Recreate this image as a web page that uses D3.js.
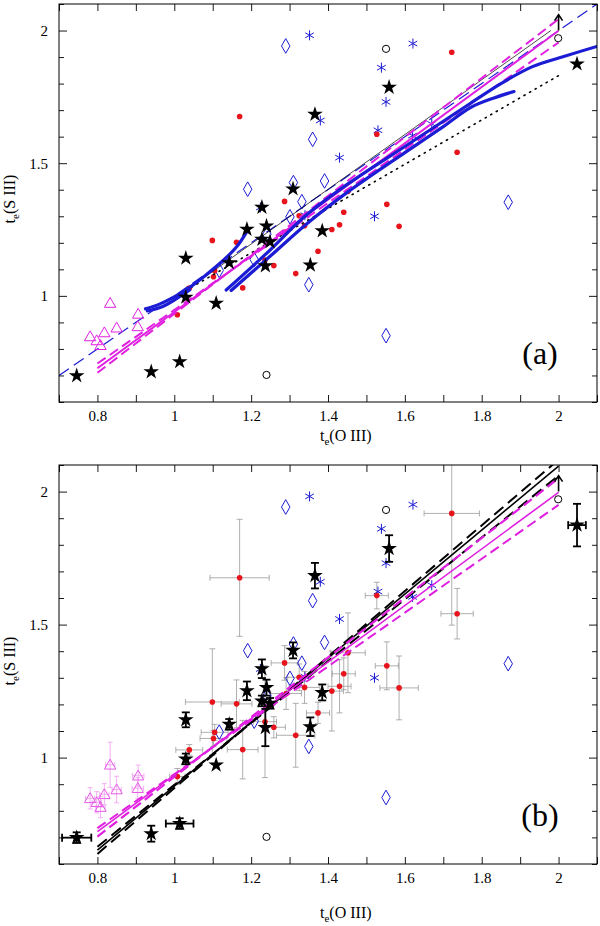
<!DOCTYPE html>
<html>
<head>
<meta charset="utf-8">
<script src="https://cdn.jsdelivr.net/npm/d3@7"></script>
<style>
  body { margin: 0; background: #fff; }
  svg { display: block; }
  svg text { font-family: "Liberation Serif", "Times New Roman", Times, "DejaVu Serif", "Noto Serif", serif; }
</style>
</head>
<body>
<div id="chart"></div>
<script>
// te(S III) against te(O III), two panels

// black stars (errors only drawn in panel b)
const starX    = [0.746, 0.94, 1.014, 1.03, 1.03, 1.109, 1.143, 1.189, 1.228, 1.240, 1.228, 1.249, 1.237, 1.309, 1.385, 1.354, 1.366, 1.559, 2.048];
const starY    = [0.699, 0.714, 0.752, 1.142, 0.995, 0.972, 1.125, 1.251, 1.334, 1.263, 1.213, 1.204, 1.113, 1.403, 1.245, 1.116, 1.684, 1.786, 1.874];
const starXerr = [0.038, 0, 0.036, 0, 0, 0, 0, 0, 0, 0, 0, 0, 0, 0, 0, 0, 0, 0, 0.023];
const starYerr = [0.02, 0.03, 0.02, 0.028, 0.02, 0, 0.02, 0.035, 0.035, 0.03, 0.02, 0.02, 0.07, 0.03, 0.03, 0.035, 0.048, 0.05, 0.08];

// red dots
const redX    = [1.170, 1.287, 1.722, 1.527, 1.736, 1.553, 1.441, 1.585, 1.430, 1.410, 1.374, 1.099, 1.162, 1.105, 1.102, 1.008, 1.178, 1.259, 1.316, 1.291, 1.325, 1.039, 1.236, 1.452, 1.339];
const redY    = [1.676, 1.356, 1.918, 1.609, 1.541, 1.345, 1.315, 1.262, 1.268, 1.250, 1.168, 1.209, 1.202, 1.095, 1.072, 0.929, 1.030, 1.114, 1.084, 1.241, 1.302, 1.029, 1.135, 1.394, 1.264];
const redXerr = [0.077, 0.035, 0.072, 0.03, 0.042, 0.03, 0.03, 0.05, 0.03, 0.03, 0.03, 0.07, 0.04, 0.035, 0.035, 0.02, 0.04, 0.03, 0.05, 0.04, 0.03, 0.035, 0.03, 0.045, 0.04];
const redYerr = [0.22, 0.065, 0.42, 0.05, 0.095, 0.09, 0.06, 0.12, 0.10, 0.15, 0.04, 0.20, 0.09, 0.03, 0.03, 0.03, 0.11, 0.04, 0.12, 0.06, 0.05, 0.02, 0.21, 0.15, 0.06];

// magenta open triangles
const triX    = [0.833, 0.906, 0.905, 0.850, 0.818, 0.781, 0.798, 0.808];
const triY    = [0.973, 0.932, 0.885, 0.880, 0.862, 0.847, 0.832, 0.814];
const triXerr = [0.012, 0.015, 0.015, 0.012, 0.012, 0.012, 0.012, 0.012];
const triYerr = [0.085, 0.04, 0.04, 0.05, 0.04, 0.04, 0.04, 0.04];

// blue open diamonds
const diaX = [1.290, 1.191, 1.310, 1.332, 1.301, 1.360, 1.391, 1.869, 1.350, 1.551, 1.117, 1.208, 1.241];
const diaY = [1.942, 1.402, 1.427, 1.355, 1.298, 1.590, 1.433, 1.353, 1.042, 0.850, 1.096, 1.137, 1.232];

// blue asterisks
const astX = [1.352, 1.621, 1.539, 1.551, 1.380, 1.530, 1.430, 1.670, 1.620, 1.521, 1.224, 1.340];
const astY = [1.982, 1.951, 1.860, 1.731, 1.661, 1.624, 1.521, 1.648, 1.604, 1.300, 1.333, 1.304];

// black open circles
const circX = [1.551, 1.999, 1.240];
const circY = [1.931, 1.971, 0.702];

// lower limit arrow
const arrowX = 2.0;
const arrowY = [2.0, 2.06];

// panel (a) lines
const oneToOne   = [[0.7, 0.7], [2.1, 2.1]];
const magFitA    = [[0.8, 0.727], [2.0, 1.999]];
const magLoA     = [[0.8, 0.710], [2.0, 2.043]];
const magHiA     = [[0.8, 0.745], [2.0, 1.955]];
const thinBlack  = [[1.03, 1.02], [1.98, 2.0]];
const dotBlack   = [[1.03, 1.02], [2.0, 1.83]];
const blueCurve1 = [[0.925, 0.951], [0.96, 0.968], [1.0, 0.996], [1.04, 1.032], [1.08, 1.076], [1.13, 1.137], [1.165, 1.19], [1.19, 1.245]];
const blueCurve2 = [[0.93, 0.943], [0.97, 0.960], [1.0, 0.984], [1.04, 1.022]];
const blueCurve3 = [[1.135, 1.022], [1.24, 1.16], [1.34, 1.30], [1.45, 1.42], [1.6, 1.563], [1.7, 1.658], [1.771, 1.726], [1.85, 1.80], [1.932, 1.864], [2.02, 1.905], [2.1, 1.94]];
const blueCurve4 = [[1.148, 1.02], [1.25, 1.15], [1.345, 1.272], [1.45, 1.39], [1.6, 1.54], [1.7, 1.638], [1.771, 1.71], [1.83, 1.745], [1.884, 1.77]];

// panel (b) lines
const blkFitB = [[0.8, 0.652], [2.0, 2.096]];
const blkHiB  = [[0.8, 0.638], [2.0, 2.12]];
const blkLoB  = [[0.8, 0.665], [2.0, 2.06]];
const magFitB = [[0.8, 0.722], [2.0, 1.997]];
const magHiB  = [[0.8, 0.703], [2.0, 2.05]];
const magLoB  = [[0.8, 0.735], [2.0, 1.95]];

// axes
const xDomain = [0.7, 2.1];
const yDomain = [0.6, 2.1];
const xTicks = d3.range(7, 22).map(d => d / 10);
const xTickLabels = [0.8, 1, 1.2, 1.4, 1.6, 1.8, 2];
const yTicks = d3.range(6, 22).map(d => d / 10);
const yTickLabels = [1, 1.5, 2];

const W = 600, H = 926;
const left = 59, right = 597;
const BLUE = "#1c1cd4", MAG = "#e01fe0", RED = "#e8141c";

const svg = d3.select("#chart").append("svg")
    .attr("width", W)
    .attr("height", H);

const panels = [
  { id: "a", top: 4, bottom: 402, xTitleY: 441, yTitleY: 199 },
  { id: "b", top: 465, bottom: 864, xTitleY: 918, yTitleY: 661 }
];

panels.forEach(p => {
  const x = d3.scaleLinear().domain(xDomain).range([left, right]);
  const y = d3.scaleLinear().domain(yDomain).range([p.bottom, p.top]);
  const g = svg.append("g");

  svg.append("clipPath").attr("id", "clip-" + p.id)
    .append("rect")
      .attr("x", left).attr("y", p.top)
      .attr("width", right - left).attr("height", p.bottom - p.top);

  const plot = g.append("g").attr("clip-path", `url(#clip-${p.id})`);
  const line = d3.line().x(d => x(d[0])).y(d => y(d[1]));
  const curve = d3.line().x(d => x(d[0])).y(d => y(d[1])).curve(d3.curveCatmullRom.alpha(0.5));

  const drawLine = (pts, color, width, dash, gen) => plot.append("path")
      .attr("d", (gen || line)(pts))
      .attr("fill", "none")
      .attr("stroke", color)
      .attr("stroke-width", width)
      .attr("stroke-dasharray", dash || null);

  // error bars (panel b)
  const errBars = (xs, ys, xe, ye, color, width, cap) => {
    const eg = plot.append("g").attr("stroke", color).attr("stroke-width", width);
    xs.forEach((xv, i) => {
      const cx = x(xv), cy = y(ys[i]);
      if (xe[i] > 0) {
        const x0 = x(xv - xe[i]), x1 = x(xv + xe[i]);
        eg.append("line").attr("x1", x0).attr("x2", x1).attr("y1", cy).attr("y2", cy);
        eg.append("line").attr("x1", x0).attr("x2", x0).attr("y1", cy - cap).attr("y2", cy + cap);
        eg.append("line").attr("x1", x1).attr("x2", x1).attr("y1", cy - cap).attr("y2", cy + cap);
      }
      if (ye[i] > 0) {
        const y0 = y(ys[i] - ye[i]), y1 = y(ys[i] + ye[i]);
        eg.append("line").attr("x1", cx).attr("x2", cx).attr("y1", y0).attr("y2", y1);
        eg.append("line").attr("x1", cx - cap).attr("x2", cx + cap).attr("y1", y0).attr("y2", y0);
        eg.append("line").attr("x1", cx - cap).attr("x2", cx + cap).attr("y1", y1).attr("y2", y1);
      }
    });
  };

  if (p.id === "b") {
    errBars(redX, redY, redXerr, redYerr, "#9a9a9a", 0.8, 3);
    errBars(triX, triY, triXerr, triYerr, "#f2a6f2", 0.9, 2.5);
  }

  // points under the lines
  plot.selectAll(".dia").data(diaX).join("path")
      .attr("transform", (d, i) => `translate(${x(d)},${y(diaY[i])})`)
      .attr("d", d3.symbol(d3.symbolDiamond, 62)())
      .attr("fill", "none").attr("stroke", BLUE).attr("stroke-width", 1);

  plot.selectAll(".ast").data(astX).join("path")
      .attr("transform", (d, i) => `translate(${x(d)},${y(astY[i])})`)
      .attr("d", d3.symbol(d3.symbolAsterisk, 70)())
      .attr("fill", "none").attr("stroke", BLUE).attr("stroke-width", 1);

  plot.selectAll(".red").data(redX).join("circle")
      .attr("cx", d => x(d)).attr("cy", (d, i) => y(redY[i]))
      .attr("r", 2.8).attr("fill", RED);

  if (p.id === "a") {
    drawLine(oneToOne, BLUE, 1.2, "12,6");
    drawLine(thinBlack, "#000", 0.7);
    drawLine(dotBlack, "#000", 1.6, "1.2,5.2").attr("stroke-linecap", "round");
    drawLine(magFitA, MAG, 2);
    drawLine(magLoA, MAG, 2, "10,5");
    drawLine(magHiA, MAG, 2, "10,5");
    [blueCurve1, blueCurve2, blueCurve3, blueCurve4].forEach(c =>
      drawLine(c, BLUE, 3.2, null, curve).attr("stroke-linecap", "round"));
  } else {
    drawLine(blkFitB, "#000", 1.6);
    drawLine(blkHiB, "#000", 2, "12,6");
    drawLine(blkLoB, "#000", 2, "12,6");
    drawLine(magFitB, MAG, 1.6);
    drawLine(magHiB, MAG, 2.2, "10,5");
    drawLine(magLoB, MAG, 2, "10,5");
  }

  if (p.id === "b") {
    errBars(starX, starY, starXerr, starYerr, "#000", 1.8, 4);
  }

  plot.selectAll(".tri").data(triX).join("path")
      .attr("transform", (d, i) => `translate(${x(d)},${y(triY[i]) + 1})`)
      .attr("d", d3.symbol(d3.symbolTriangle, 56)())
      .attr("fill", "none").attr("stroke", p.id === "a" ? MAG : "#e55be5").attr("stroke-width", 1);

  plot.selectAll(".star").data(starX).join("path")
      .attr("transform", (d, i) => `translate(${x(d)},${y(starY[i])})`)
      .attr("d", d3.symbol(d3.symbolStar, 76)())
      .attr("fill", "#000");

  plot.selectAll(".circ").data(circX).join("circle")
      .attr("cx", d => x(d)).attr("cy", (d, i) => y(circY[i]))
      .attr("r", 3.6).attr("fill", "none").attr("stroke", "#000").attr("stroke-width", 1);

  // lower limit arrow
  const ax = x(arrowX), ay0 = y(arrowY[0]), ay1 = y(arrowY[1]);
  plot.append("path")
      .attr("d", `M${ax},${ay0}L${ax},${ay1}M${ax - 4},${ay1 + 6}L${ax},${ay1}L${ax + 4},${ay1 + 6}`)
      .attr("fill", "none").attr("stroke", "#000").attr("stroke-width", 1.6);

  // axes, ticks pointing inwards on all four sides
  const fmt = d => xTickLabels.includes(d) ? String(d) : "";
  const yfmt = d => yTickLabels.includes(d) ? String(d) : "";
  const yMinor = yTicks.filter(d => !yTickLabels.includes(d));

  g.append("g").attr("transform", `translate(0,${p.bottom})`)
    .call(d3.axisBottom(x).tickValues(xTicks).tickSizeInner(-7).tickSizeOuter(0).tickPadding(8).tickFormat(fmt));
  g.append("g").attr("transform", `translate(0,${p.top})`)
    .call(d3.axisTop(x).tickValues(xTicks).tickSizeInner(-7).tickSizeOuter(0).tickFormat(""));
  g.append("g").attr("transform", `translate(${left},0)`)
    .call(d3.axisLeft(y).tickValues(yTickLabels).tickSizeInner(-8).tickSizeOuter(0).tickPadding(11).tickFormat(yfmt));
  g.append("g").attr("transform", `translate(${left},0)`)
    .call(d3.axisLeft(y).tickValues(yMinor).tickSizeInner(-5).tickSizeOuter(0).tickFormat(""));
  g.append("g").attr("transform", `translate(${right},0)`)
    .call(d3.axisRight(y).tickValues(yTickLabels).tickSizeInner(-8).tickSizeOuter(0).tickFormat(""));
  g.append("g").attr("transform", `translate(${right},0)`)
    .call(d3.axisRight(y).tickValues(yMinor).tickSizeInner(-5).tickSizeOuter(0).tickFormat(""));

  g.selectAll(".domain").remove();
  g.selectAll(".tick line").attr("stroke", "#000").attr("stroke-width", 0.9);
  g.selectAll(".tick text").attr("font-size", 15).attr("fill", "#000");
  g.selectAll("g").attr("font-family", null);

  g.append("rect")
      .attr("x", left).attr("y", p.top)
      .attr("width", right - left).attr("height", p.bottom - p.top)
      .attr("fill", "none").attr("stroke", "#000").attr("stroke-width", 1);

  // panel tag
  g.append("text")
      .attr("x", 540).attr("y", p.bottom - 38)
      .attr("text-anchor", "middle")
      .attr("font-size", 32)
      .text("(" + p.id + ")");

  // axis titles
  const xt = g.append("text")
      .attr("x", 320).attr("y", p.xTitleY)
      .attr("font-size", 16);
  xt.append("tspan").text("t");
  xt.append("tspan").attr("dy", 4).attr("font-size", 11).text("e");
  xt.append("tspan").attr("dy", -4).text("(O III)");

  const yt = g.append("text")
      .attr("transform", `translate(15,${p.yTitleY}) rotate(-90)`)
      .attr("text-anchor", "middle")
      .attr("font-size", 16);
  yt.append("tspan").text("t");
  yt.append("tspan").attr("dy", 4).attr("font-size", 11).text("e");
  yt.append("tspan").attr("dy", -4).text("(S III)");
});
</script>
</body>
</html>
